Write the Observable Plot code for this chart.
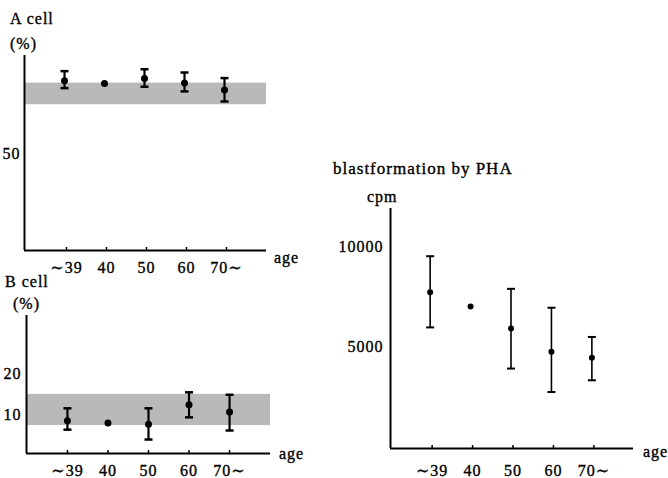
<!DOCTYPE html>
<html><head><meta charset="utf-8">
<script src="https://cdn.jsdelivr.net/npm/d3@7"></script>
<script src="https://cdn.jsdelivr.net/npm/@observablehq/plot@0.6"></script>
<style>
body{margin:0;background:#fff;}
#chart{position:relative;width:668px;height:478px;overflow:hidden;background:#fff;font-family:"Liberation Serif","DejaVu Serif",serif;color:#000;}
.lbl{position:absolute;font-size:16px;line-height:20px;letter-spacing:1px;white-space:nowrap;-webkit-text-stroke:0.35px #000;}
.panel{position:absolute;}
.panel svg{overflow:visible;}
.panel svg text{letter-spacing:1px;stroke:#000;stroke-width:0.35px;}
</style></head><body><div id="chart"></div>
<script>
// ---- data ----
const ageLabels = ["∼39", "40", "50", "60", "70∼"];

const aMean = [87.9, 86.5, 89.1, 86.7, 83.1];
const aLow  = [84.1, null, 84.8, 82.4, 77.2];
const aHigh = [92.9, null, 93.9, 92.2, 89.3];
const aNormal = [75.5, 86.7];
const aTicks = [50];

const bMean = [8.6, 8.0, 7.7, 12.5, 10.7];
const bLow  = [6.4, null, 4.0, 9.4, 6.2];
const bHigh = [11.6, null, 11.6, 15.5, 14.9];
const bNormal = [7.4, 15.0];
const bTicks = [10, 20];

const phaMean = [7740, 7020, 5920, 4750, 4440];
const phaLow  = [5970, null, 3900, 2720, 3310];
const phaHigh = [9550, null, 7910, 6960, 5490];
const phaTicks = [5000, 10000];

// ---- helpers ----
const ink = "#000";
const hbar = {draw(ctx, size) { const r = Math.sqrt(size / Math.PI); ctx.moveTo(-r, 0); ctx.lineTo(r, 0); }};
const chart = document.getElementById("chart");

function rowsOf(mean, low, high) {
  return ageLabels.map((a, i) => ({i: i + 1, label: a, mean: mean[i], low: low[i], high: high[i]}));
}

function panel({left, top, width, height, margins, xDomain, yDomain, rows, normal, yTicks, yPad, xPad, dx, r, capR, barW, capW}) {
  const bars = rows.filter(d => d.low != null && d.high != null);
  const marks = [];
  if (normal) marks.push(Plot.rect([normal], {x1: xDomain[0], x2: xDomain[1], y1: d => d[0], y2: d => d[1], fill: "#b9b9b9"}));
  marks.push(
    Plot.ruleX([xDomain[0]], {stroke: ink, strokeWidth: 2}),
    Plot.ruleY([yDomain[0]], {stroke: ink, strokeWidth: 2}),
    Plot.axisY({ticks: yTicks, tickSize: 0, tickPadding: yPad, fontSize: 16, label: null, fill: ink, tickFormat: d => String(d)}),
    Plot.axisX({ticks: [1, 2, 3, 4, 5], tickSize: 0, tickPadding: xPad, fontSize: 16, label: null, fill: ink, tickFormat: i => ageLabels[i - 1]}),
    Plot.axisX({ticks: [1, 2, 3, 4, 5], tickSize: 3, dy: -3, label: null, stroke: ink, strokeWidth: 1.5, tickFormat: () => ""}),
    Plot.ruleX(bars, {x: "i", y1: "low", y2: "high", stroke: ink, strokeWidth: barW, dx}),
    Plot.dot(bars, {x: "i", y: "low", symbol: hbar, r: capR, stroke: ink, fill: "none", strokeWidth: capW, dx}),
    Plot.dot(bars, {x: "i", y: "high", symbol: hbar, r: capR, stroke: ink, fill: "none", strokeWidth: capW, dx}),
    Plot.dot(rows, {x: "i", y: "mean", r, fill: ink, stroke: "none", dx})
  );
  const p = Plot.plot({
    width, height,
    marginLeft: margins[0], marginTop: margins[1], marginRight: margins[2], marginBottom: margins[3],
    style: {fontFamily: '"Liberation Serif","DejaVu Serif",serif', fontSize: "16px", background: "transparent", color: ink},
    x: {domain: xDomain, label: null},
    y: {domain: yDomain, label: null},
    marks
  });
  const div = document.createElement("div");
  div.className = "panel";
  div.style.left = left + "px";
  div.style.top = top + "px";
  div.appendChild(p);
  chart.appendChild(div);
}

function label(text, x, yc, size) {
  const d = document.createElement("div");
  d.className = "lbl";
  d.textContent = text;
  d.style.left = x + "px";
  d.style.top = (yc - 10) + "px";
  if (size) d.style.fontSize = size + "px";
  chart.appendChild(d);
}

// ---- panels ----
panel({left: 0, top: 0, width: 300, height: 280, margins: [24, 55, 34, 30],
  xDomain: [-0.05, 6.0], yDomain: [0, 101], rows: rowsOf(aMean, aLow, aHigh), normal: aNormal,
  yTicks: aTicks, yPad: 4, xPad: 11, dx: -2, r: 3.5, capR: 4, barW: 2.2, capW: 2.5});

panel({left: 0, top: 270, width: 300, height: 208, margins: [26, 45, 30, 25],
  xDomain: [-0.01, 6.01], yDomain: [0.6, 34.2], rows: rowsOf(bMean, bLow, bHigh), normal: bNormal,
  yTicks: bTicks, yPad: 5, xPad: 11, dx: 0, r: 3.5, capR: 4, barW: 2.2, capW: 2.5});

panel({left: 320, top: 150, width: 348, height: 328, margins: [70, 58, 35, 30],
  xDomain: [-0.03, 5.98], yDomain: [-120, 11950], rows: rowsOf(phaMean, phaLow, phaHigh), normal: null,
  yTicks: phaTicks, yPad: 7, xPad: 16, dx: -2, r: 3, capR: 4, barW: 1.6, capW: 2});

// ---- text ----
label("A cell", 10, 19);
label("(%)", 10, 44);
label("age", 274, 258);
label("B cell", 5, 282);
label("(%)", 13, 304);
label("age", 279, 454);
label("blastformation by PHA", 333, 169, 17);
label("cpm", 367, 197);
label("age", 643, 452);
</script>
</body></html>
